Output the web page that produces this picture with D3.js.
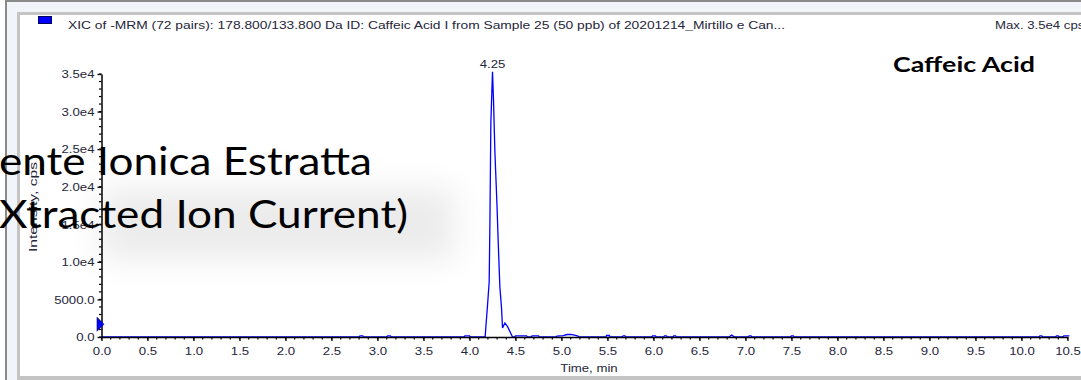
<!DOCTYPE html>
<html><head><meta charset="utf-8">
<script src="https://cdn.jsdelivr.net/npm/d3@7/dist/d3.min.js"></script>
<style>html,body{margin:0;padding:0;background:#fff;overflow:hidden}</style>
</head><body><svg id="c" width="1081" height="380"></svg>
<script>
// ---- data ----
const times = [0, 2.80, 2.81, 2.84, 2.85, 3.10, 3.11, 3.14, 3.15, 3.94, 3.95, 4.00, 4.01,
  4.170, 4.178, 4.196, 4.214, 4.222, 4.232, 4.250, 4.261, 4.276, 4.298, 4.312, 4.330, 4.348, 4.359, 4.385, 4.414, 4.468,
  4.49, 4.50, 4.62, 4.63, 4.67, 4.68, 4.75, 4.76, 4.94, 4.95, 5.02, 5.06, 5.10, 5.14, 5.18, 5.19,
  5.48, 5.49, 5.52, 5.53, 5.66, 5.67, 5.69, 5.70, 5.98, 5.99, 6.02, 6.03, 6.11, 6.12, 6.14, 6.15,
  6.21, 6.22, 6.24, 6.25, 6.82, 6.85, 6.88, 7.03, 7.04, 7.06, 7.07, 7.49, 7.50, 7.52, 7.53,
  10.19, 10.20, 10.22, 10.23, 10.37, 10.38, 10.40, 10.41, 10.45, 10.46, 10.52];
const intensities = [0, 0, 150, 150, 0, 0, 150, 150, 0, 0, 150, 150, 0,
  0, 1370, 4240, 7350, 15330, 28460, 35300, 31500, 24640, 17800, 12670, 6690, 3850, 1200, 1860, 1370, 0,
  0, 150, 150, 0, 0, 150, 150, 0, 0, 120, 180, 330, 350, 250, 120, 0,
  0, 200, 200, 0, 0, 150, 150, 0, 0, 150, 150, 0, 0, 150, 150, 0,
  0, 150, 150, 0, 0, 250, 0, 0, 150, 150, 0, 0, 150, 150, 0,
  0, 150, 150, 0, 0, 150, 150, 0, 0, 150, 150];
const peakTime = 4.25;
const peakLabel = "4.25";
const xTickValues = [0,0.5,1,1.5,2,2.5,3,3.5,4,4.5,5,5.5,6,6.5,7,7.5,8,8.5,9,9.5,10,10.5];
const xTickLabels = ["0.0","0.5","1.0","1.5","2.0","2.5","3.0","3.5","4.0","4.5","5.0","5.5","6.0","6.5","7.0","7.5","8.0","8.5","9.0","9.5","10.0","10.5"];
const yTickValues = [0,5000,10000,15000,20000,25000,30000,35000];
const yTickLabels = ["0.0","5000.0","1.0e4","1.5e4","2.0e4","2.5e4","3.0e4","3.5e4"];
const markerLevel = 1700;
const headerText = "XIC of -MRM (72 pairs): 178.800/133.800 Da ID: Caffeic Acid I from Sample 25 (50 ppb) of 20201214_Mirtillo e Can...";
const maxText = "Max. 3.5e4 cps";
const compoundText = "Caffeic Acid";
const overlayLines = ["ente Ionica Estratta", "Xtracted Ion Current)"];
const xTitle = "Time, min";
const yTitle = "Intensity, cps";

// ---- drawing ----
const svg = d3.select("#c");
const SX = 1.2; // horizontal stretch of the screenshot
const FONT = "'Liberation Sans', Arial, sans-serif";
const TXT = "#26263a";

// frame
svg.append("rect").attr("x",5).attr("y",0).attr("width",1076).attr("height",380).attr("fill","#f1f4f8");
svg.append("rect").attr("x",5).attr("y",0).attr("width",1076).attr("height",2).attr("fill","#8a8a8a");
svg.append("rect").attr("x",5).attr("y",0).attr("width",2).attr("height",380).attr("fill","#8a8a8a");
svg.append("rect").attr("x",17).attr("y",12).attr("width",1064).attr("height",368).attr("fill","#c4c4c4");
svg.append("rect").attr("x",20).attr("y",15).attr("width",1061).attr("height",361).attr("fill","#fff");

const x = d3.scaleLinear().domain([0, 10.5]).range([101.5, 1067.5]);
const y = d3.scaleLinear().domain([0, 35000]).range([337, 74]);

function stretchText(sel, px, py, anchor) {
  return sel.attr("transform", `translate(${px},${py}) scale(${SX},1)`).attr("text-anchor", anchor || "start");
}

// header
svg.append("rect").attr("x",38.5).attr("y",16.5).attr("width",13).attr("height",7)
  .attr("fill","#0000ff").attr("stroke","#000060").attr("stroke-width",1);
svg.append("text").attr("x",68).attr("y",29).text(headerText)
  .attr("font-family",FONT).attr("font-size",11).attr("fill",TXT)
  .attr("textLength",717).attr("lengthAdjust","spacingAndGlyphs");
stretchText(svg.append("text").text(maxText), 995, 29)
  .attr("font-family",FONT).attr("font-size",11).attr("fill",TXT);

// data line
const line = d3.line().x((d,i)=>x(times[i])).y((d,i)=>y(intensities[i]));
svg.append("path").datum(intensities).attr("d", line)
  .attr("fill","none").attr("stroke","#0000ff").attr("stroke-width",1.3);

// axes
const xAxis = d3.axisBottom(x).tickValues(xTickValues).tickFormat((d,i)=>xTickLabels[i]).tickSize(4).tickSizeOuter(0);
const gx = svg.append("g").attr("transform","translate(0,337)").call(xAxis);
gx.select(".domain").attr("stroke","#000").attr("stroke-width",1.5);
gx.selectAll(".tick line").attr("stroke","#000").attr("stroke-width",1.3);
gx.selectAll(".tick text").attr("font-family",FONT).attr("font-size",11).attr("fill",TXT)
  .attr("y",null).attr("dy",null)
  .attr("transform",`translate(0,18) scale(${SX},1)`);
const minorX = d3.range(0,106).map(i=>i/10);
svg.append("g").selectAll("line").data(minorX).join("line")
  .attr("x1",d=>x(d)).attr("x2",d=>x(d)).attr("y1",337).attr("y2",339.5)
  .attr("stroke","#000").attr("stroke-width",1.2);

const yAxis = d3.axisLeft(y).tickValues(yTickValues).tickFormat((d,i)=>yTickLabels[i]).tickSize(4).tickSizeOuter(0);
const gy = svg.append("g").attr("transform","translate(101.5,0)").call(yAxis);
gy.select(".domain").attr("stroke","#000").attr("stroke-width",1.5);
gy.selectAll(".tick line").attr("stroke","#000").attr("stroke-width",1.3);
gy.selectAll(".tick text").attr("font-family",FONT).attr("font-size",11).attr("fill",TXT)
  .attr("x",null).attr("dy","0.34em")
  .attr("transform",`translate(-7,0) scale(${SX},1)`);
const minorY = d3.range(0,36).map(i=>i*1000);
svg.append("g").selectAll("line").data(minorY).join("line")
  .attr("x1",99).attr("x2",101.5).attr("y1",d=>y(d)).attr("y2",d=>y(d))
  .attr("stroke","#000").attr("stroke-width",1.2);

// threshold marker
const my = y(markerLevel);
svg.append("path").attr("d",`M97,${my-7}L104,${my}L97,${my+7}Z`).attr("fill","#0000ff").attr("stroke","#000050").attr("stroke-width",0.6);

// peak label
stretchText(svg.append("text").text(peakLabel), x(peakTime), 68, "middle")
  .attr("font-family",FONT).attr("font-size",11).attr("fill",TXT);

// axis titles
stretchText(svg.append("text").text(xTitle), 589, 372, "middle")
  .attr("font-family",FONT).attr("font-size",11).attr("fill",TXT);
svg.append("text").text(yTitle)
  .attr("transform","translate(37,207) rotate(-90)").attr("text-anchor","middle")
  .attr("font-family",FONT).attr("font-size",11).attr("fill",TXT)
  .attr("textLength",90).attr("lengthAdjust","spacingAndGlyphs");

// compound name
svg.append("text").attr("x",893).attr("y",72).text(compoundText)
  .attr("font-family","Lato, 'Open Sans', sans-serif").attr("font-weight","bold").attr("font-size",20).attr("fill","#000")
  .attr("textLength",142).attr("lengthAdjust","spacingAndGlyphs");

// overlay text with soft shadow
const defs = svg.append("defs");
defs.append("filter").attr("id","blur").attr("x","-50%").attr("y","-100%").attr("width","200%").attr("height","300%")
  .append("feGaussianBlur").attr("stdDeviation",16);
svg.append("rect").attr("x",100).attr("y",188).attr("width",355).attr("height",72)
  .attr("fill","#000").attr("opacity",0.075).attr("filter","url(#blur)");
svg.append("text").attr("x",-1).attr("y",175).text(overlayLines[0])
  .attr("font-family","Lato, 'Open Sans', sans-serif").attr("font-size",39).attr("fill","#000")
  .attr("textLength",373).attr("lengthAdjust","spacingAndGlyphs");
svg.append("text").attr("x",-1).attr("y",228).text(overlayLines[1])
  .attr("font-family","Lato, 'Open Sans', sans-serif").attr("font-size",39).attr("fill","#000")
  .attr("textLength",409).attr("lengthAdjust","spacingAndGlyphs");
</script></body></html>
